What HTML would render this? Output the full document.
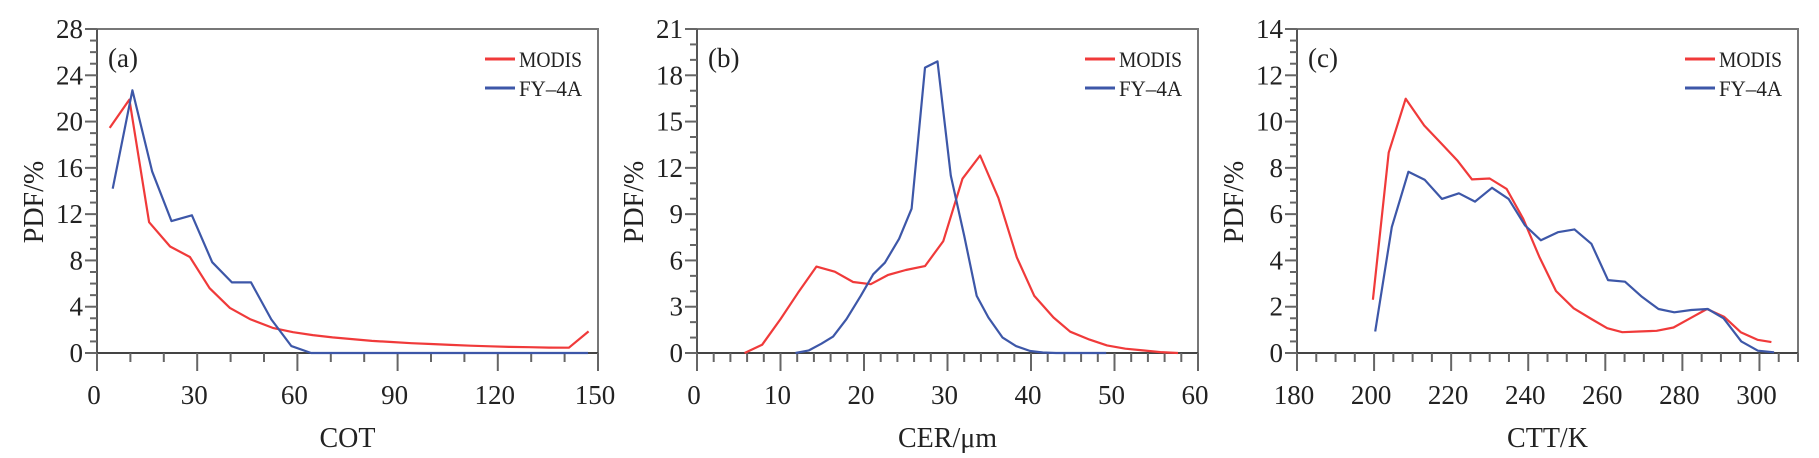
<!DOCTYPE html>
<html><head><meta charset="utf-8">
<style>
html,body{margin:0;padding:0;background:#fff;}
svg{display:block;}
text{font-family:"Liberation Serif",serif;fill:#222;}
</style></head>
<body>
<svg id="chart" width="1819" height="458" viewBox="0 0 1819 458" xmlns="http://www.w3.org/2000/svg"></svg>
<script>
// Panel (a) COT
const cotModisX = [3.8,9.7,15.6,21.9,27.8,33.7,39.8,46,52.8,58.7,64.6,70.5,76.4,82.3,88.2,94.1,100,105.9,111.8,117.7,123.6,129.5,135.4,141.3,147.2];
const cotModisY = [19.45,21.9,11.3,9.2,8.3,5.6,3.9,2.9,2.15,1.8,1.55,1.35,1.2,1.05,0.95,0.85,0.78,0.7,0.63,0.58,0.53,0.5,0.47,0.46,1.87];
const cotFyX = [4.7,10.6,16.5,22.3,28.4,34.5,40.4,46.1,52.2,58.2,64.1,70,76,82,88,94,100,106,112,118,124,130,136,142,147];
const cotFyY = [14.2,22.7,15.7,11.4,11.9,7.85,6.1,6.1,2.9,0.6,0,0,0,0,0,0,0,0,0,0,0,0,0,0,0];
const cotXTicks = [0,30,60,90,120,150];
const cotYTicks = [0,4,8,12,16,20,24,28];
// Panel (b) CER
const cerModisX = [5.7,7.8,10,12.1,14.3,16.5,18.7,20.8,22.9,25,27.3,29.5,31.8,33.9,36.1,38.3,40.4,42.7,44.7,47,49.1,51.3,53.4,55.5,57.6];
const cerModisY = [0,0.53,2.2,3.9,5.6,5.27,4.6,4.46,5.06,5.38,5.63,7.25,11.3,12.8,10.05,6.2,3.7,2.3,1.38,0.87,0.49,0.28,0.17,0.06,0];
const cerFyX = [11.8,13.4,14.9,16.3,17.9,19.6,21.1,22.5,24.2,25.7,27.3,28.8,30.4,32,33.5,34.9,36.6,38.2,39.9,41.4,43,44.5,46,47.5,49];
const cerFyY = [0,0.17,0.6,1.06,2.2,3.7,5.1,5.85,7.4,9.35,18.5,18.9,11.5,7.6,3.7,2.3,1.0,0.45,0.13,0.03,0,0,0,0,0];
const cerXTicks = [0,10,20,30,40,50,60];
const cerYTicks = [0,3,6,9,12,15,18,21];
// Panel (c) CTT
const cttModisX = [199.7,203.8,208.2,213,217.4,221.7,225.4,230,234.4,238.7,242.9,247.2,251.8,256.4,260.5,264.4,268.7,273.3,277.7,282,286.4,290.8,295.2,299.5,303.1];
const cttModisY = [2.3,8.66,10.99,9.83,9.06,8.3,7.5,7.54,7.09,5.8,4.15,2.68,1.93,1.47,1.07,0.9,0.93,0.96,1.1,1.5,1.9,1.57,0.89,0.57,0.47];
const cttFyX = [200.3,204.6,208.9,213.1,217.6,222,226.2,230.6,234.9,239.2,243.3,247.7,252,256.4,260.7,265.1,269.5,273.8,277.9,282.3,286.6,290.7,295.3,299.6,303.8];
const cttFyY = [0.93,5.44,7.83,7.49,6.66,6.9,6.54,7.14,6.66,5.51,4.87,5.22,5.34,4.72,3.15,3.08,2.43,1.9,1.76,1.86,1.9,1.5,0.5,0.1,0.03];
const cttXTicks = [180,200,220,240,260,280,300];
const cttYTicks = [0,2,4,6,8,10,12,14];

const NS = "http://www.w3.org/2000/svg";
const svg = document.getElementById('chart');
function mk(tag, attrs, parent){ const e=document.createElementNS(NS,tag); for(const k in attrs) e.setAttribute(k,attrs[k]); (parent||svg).appendChild(e); return e; }

function panel(cfg){
  const L=cfg.left, R=cfg.left+501, T=29, B=353;
  const g = mk('g',{});
  
  
  const sx = v => L + (v-cfg.xmin)/(cfg.xmax-cfg.xmin)*(R-L);
  const sy = v => B - (v-cfg.ymin)/(cfg.ymax-cfg.ymin)*(B-T);
  // frame top/right
  const fr = mk('path',{d:`M${L} ${T} H${R} V${B}`, stroke:'#777', 'stroke-width':2, fill:'none'}, g);
  
  
  // y axis
  const ya = mk('line',{x1:L,y1:T,x2:L,y2:B+18,stroke:'#555','stroke-width':2},g);
  
  
  const xa = mk('line',{x1:L-12,y1:B,x2:R,y2:B,stroke:'#444','stroke-width':2},g);
  
  
  // y ticks
  const yStep = cfg.yTicks[1]-cfg.yTicks[0];
  for(let v=cfg.ymin; v<=cfg.ymax+1e-9; v+=yStep/cfg.yMinor){
    const major = cfg.yTicks.some(t=>Math.abs(t-v)<1e-6);
    mk('line',{x1:L-(major?12:7),y1:sy(v),x2:L,y2:sy(v),stroke:'#666','stroke-width':2},g);
  }
  cfg.yTicks.forEach(t=>{
    const tx = mk('text',{x:L-14,y:sy(t)+9,'text-anchor':'end','font-size':27},g);
    tx.textContent=t;
    
    
  });
  const xStep = cfg.xTicks[1]-cfg.xTicks[0];
  for(let v=cfg.xmin; v<=cfg.xmax+1e-9; v+=xStep/cfg.xMinor){
    const major = cfg.xTicks.some(t=>Math.abs(t-v)<1e-6);
    mk('line',{x1:sx(v),y1:B,x2:sx(v),y2:B+(major?18:9),stroke:'#666','stroke-width':2},g);
  }
  cfg.xTicks.forEach(t=>{
    const tx = mk('text',{x:sx(t)-3,y:404,'text-anchor':'middle','font-size':27},g);
    tx.textContent=t;
    
    
  });
  // series
  cfg.series.forEach(s=>{
    const d = s.x.map((xv,i)=>(i?'L':'M')+sx(xv).toFixed(1)+' '+sy(s.y[i]).toFixed(1)).join(' ');
    const p = mk('path',{d:d,stroke:s.color,'stroke-width':2.2,fill:'none','stroke-linejoin':'round'},g);
    
    
  });
  // panel label
  const pl = mk('text',{x:L+11,y:67,'font-size':27},g);
  pl.textContent = cfg.label;
  
  
  // legend
  [['MODIS','#f03a3a',59],['FY\u20134A','#3d57a8',88]].forEach(([lab,col,yy])=>{
    const ln = mk('line',{x1:R-113,y1:yy,x2:R-83,y2:yy,stroke:col,'stroke-width':3},g);
    
    
    const tx = mk('text',{x:R-79,y:yy+8,'font-size':22,textLength:63,lengthAdjust:'spacingAndGlyphs'},g);
    tx.textContent = lab;
    
    
  });
  // axis titles
  const xt = mk('text',{x:(L+R)/2,y:447,'text-anchor':'middle','font-size':28},g);
  xt.textContent = cfg.xTitle;
  
  
  const yt = mk('text',{x:0,y:0,'text-anchor':'middle','font-size':28,transform:`translate(${L-54},202) rotate(-90)`},g);
  yt.textContent = 'PDF/%';
  
  
}

panel({name:'panel-a-cot',left:97,xmin:0,xmax:150,ymin:0,ymax:28,xTicks:cotXTicks,yTicks:cotYTicks,xMinor:3,yMinor:4,label:'(a)',xTitle:'COT',
  series:[{name:'modis-line',x:cotModisX,y:cotModisY,color:'#f03a3a'},{name:'fy4a-line',x:cotFyX,y:cotFyY,color:'#3d57a8'}]});
panel({name:'panel-b-cer',left:697,xmin:0,xmax:60,ymin:0,ymax:21,xTicks:cerXTicks,yTicks:cerYTicks,xMinor:5,yMinor:3,label:'(b)',xTitle:'CER/\u03bcm',
  series:[{name:'modis-line',x:cerModisX,y:cerModisY,color:'#f03a3a'},{name:'fy4a-line',x:cerFyX,y:cerFyY,color:'#3d57a8'}]});
panel({name:'panel-c-ctt',left:1297,xmin:180,xmax:310,ymin:0,ymax:14,xTicks:cttXTicks,yTicks:cttYTicks,xMinor:4,yMinor:4,label:'(c)',xTitle:'CTT/K',
  series:[{name:'modis-line',x:cttModisX,y:cttModisY,color:'#f03a3a'},{name:'fy4a-line',x:cttFyX,y:cttFyY,color:'#3d57a8'}]});
</script>
</body></html>
